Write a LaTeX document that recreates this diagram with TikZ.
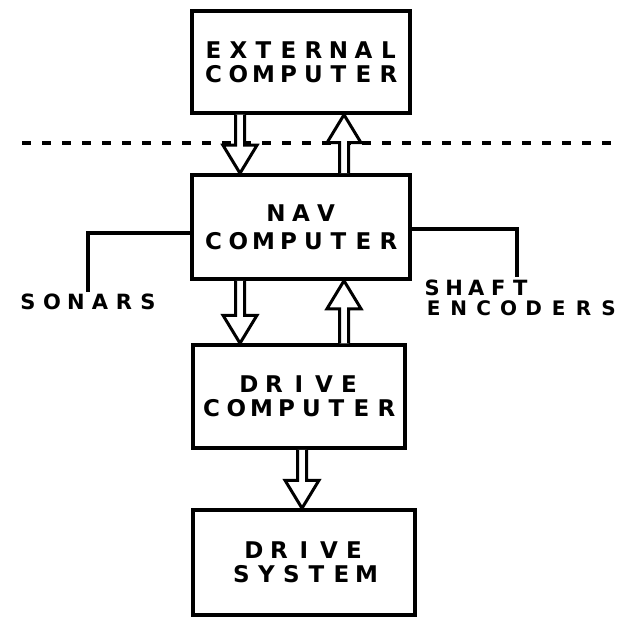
\documentclass[tikz,border=0pt]{standalone}
\usepackage{fontspec}
\usetikzlibrary{calc}
\newfontfamily\dotfont{DejaVu Sans}
\makeatletter
\newcommand\spread[2][25pt]{\def\spr@w{#1}\@tfor\spr@c:=#2\do{\makebox[\spr@w]{\spr@c}}}
\makeatother
\newcommand\arrdown[2]{%
  \draw[fatarr] let \p1=(#1), \p2=(#2) in
    ({\x1-4.5pt},\y1) -- ({\x1-4.5pt},{\y2+28pt}) -- ({\x1-17pt},{\y2+28pt}) -- (\x1,\y2)
    -- ({\x1+17pt},{\y2+28pt}) -- ({\x1+4.5pt},{\y2+28pt}) -- ({\x1+4.5pt},\y1);}
\newcommand\arrup[2]{%
  \draw[fatarr] let \p1=(#1), \p2=(#2) in
    ({\x1-4.5pt},\y1) -- ({\x1-4.5pt},{\y2-28pt}) -- ({\x1-17pt},{\y2-28pt}) -- (\x1,\y2)
    -- ({\x1+17pt},{\y2-28pt}) -- ({\x1+4.5pt},{\y2-28pt}) -- ({\x1+4.5pt},\y1);}
\begin{document}
\begin{tikzpicture}[x=1pt,y=-1pt,
  box/.style={draw, line width=3.5pt, align=center, inner sep=0pt,
    font=\dotfont\bfseries\fontsize{23}{24}\selectfont},
  lbl/.style={inner sep=0pt, font=\dotfont\bfseries\fontsize{21}{22}\selectfont},
  wire/.style={line width=3.5pt},
  fatarr/.style={line width=3pt, fill=white, line join=miter},
  sep/.style={line width=3.5pt, dash pattern=on 9pt off 11pt}]
\useasboundingbox (0,0) rectangle (623,620);
% boxes
\node[box, minimum width=218pt, minimum height=102pt] (ext) at (301,62)
  {\spread{EXTERNAL}\\\spread{COMPUTER}};
\node[box, minimum width=218pt, minimum height=104pt] (nav) at (301,227)
  {\spread{NAV}\\[4pt]\spread{COMPUTER}};
\node[box, minimum width=212pt, minimum height=103pt] (drv) at (299,396.5)
  {\spread{DRIVE}\\\spread{COMPUTER}};
\node[box, minimum width=222pt, minimum height=105pt] (sys) at (304,562.5)
  {\spread{DRIVE}\\\spread{SYSTEM}};
% labels
\node[lbl] (sonars) at (88,302) {\spread[24pt]{SONARS}};
\node[lbl, anchor=west] (shaft) at (421,288) {\spread[22pt]{SHAFT}};
\node[lbl, anchor=west, font=\dotfont\bfseries\fontsize{20}{21}\selectfont] (enc) at (421,308) {\spread[25pt]{ENCODERS}};
% helper coordinates
\coordinate (ys) at (0,233);
\coordinate (ye) at (0,229);
\coordinate (shaftend) at (517,277);
\coordinate (xa) at (240,0);
\coordinate (xb) at (344,0);
\coordinate (xc) at (302,0);
\coordinate (dl) at (22,143);
\coordinate (dr) at (620,143);
% dashed boundary
\draw[sep] (dl) -- (dr);
% side connections
\draw[wire] (nav.west |- ys) -| ([yshift=2pt]sonars.north);
\draw[wire] (nav.east |- ye) -| (shaftend);
% arrows
\arrdown{ext.south -| xa}{nav.north -| xa}
\arrup{nav.north -| xb}{ext.south -| xb}
\arrdown{nav.south -| xa}{drv.north -| xa}
\arrup{drv.north -| xb}{nav.south -| xb}
\arrdown{drv.south -| xc}{sys.north -| xc}
\end{tikzpicture}
\end{document}
